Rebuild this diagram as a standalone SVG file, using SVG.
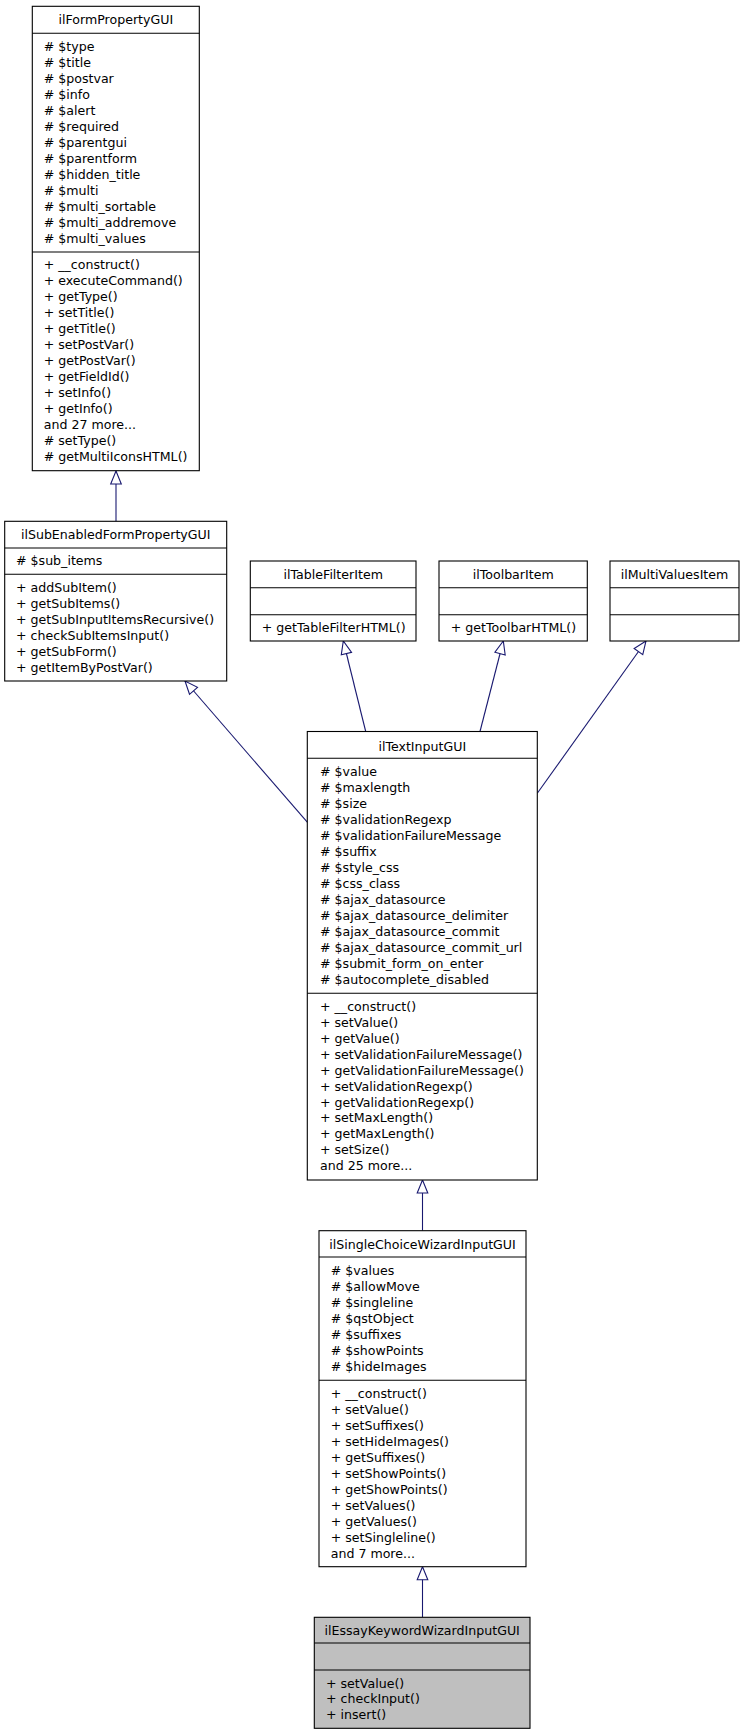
<svg xmlns="http://www.w3.org/2000/svg" width="744" height="1736" viewBox="0 0 744 1736">
<style>
.box{fill:#fff;stroke:#000;stroke-width:1.1}
.cur{fill:#bfbfbf;stroke:#000;stroke-width:1.1}
.sep{stroke:#000;stroke-width:1.1}
text{font-family:"DejaVu Sans","Liberation Sans",sans-serif;font-size:12.6px;fill:#000}
.t{text-anchor:middle}
.edge{stroke:#191970;stroke-width:1.1;fill:none;marker-end:url(#arr)}
</style>
<defs>
<marker id="arr" markerUnits="userSpaceOnUse" viewBox="-1 -1 16 14" markerWidth="16" markerHeight="14" refX="13" refY="5.5" orient="auto" overflow="visible">
<path d="M13,5.5 L0,0.2 L0,10.8 Z" fill="#fff" stroke="#191970" stroke-width="1.1"/>
</marker>
</defs>
<g id="connectors">
<line class="edge" x1="116" y1="521.3" x2="116" y2="471"/>
<line class="edge" x1="307.7" y1="822.7" x2="185" y2="681"/>
<line class="edge" x1="365.7" y1="731.5" x2="343.3" y2="641"/>
<line class="edge" x1="480" y1="731.5" x2="503.3" y2="641"/>
<line class="edge" x1="537.3" y1="793.3" x2="646" y2="641"/>
<line class="edge" x1="422.5" y1="1230.7" x2="422.5" y2="1180"/>
<line class="edge" x1="422.5" y1="1617.3" x2="422.5" y2="1566.7"/>
</g>
<g id="ilFormPropertyGUI">
<rect class="box" x="32.3" y="6.3" width="167" height="464.4"/>
<line class="sep" x1="32.3" y1="33.3" x2="199.3" y2="33.3"/>
<line class="sep" x1="32.3" y1="252" x2="199.3" y2="252"/>
<text class="t" x="115.8" y="24.2">ilFormPropertyGUI</text>
<text x="43.7" y="51.2">
<tspan x="43.7">#  $type</tspan><tspan x="43.7" dy="16">#  $title</tspan><tspan x="43.7" dy="16">#  $postvar</tspan><tspan x="43.7" dy="16">#  $info</tspan><tspan x="43.7" dy="16">#  $alert</tspan><tspan x="43.7" dy="16">#  $required</tspan><tspan x="43.7" dy="16">#  $parentgui</tspan><tspan x="43.7" dy="16">#  $parentform</tspan><tspan x="43.7" dy="16">#  $hidden_title</tspan><tspan x="43.7" dy="16">#  $multi</tspan><tspan x="43.7" dy="16">#  $multi_sortable</tspan><tspan x="43.7" dy="16">#  $multi_addremove</tspan><tspan x="43.7" dy="16">#  $multi_values</tspan>
</text>
<text x="43.7" y="268.8">
<tspan x="43.7">+  __construct()</tspan><tspan x="43.7" dy="16">+  executeCommand()</tspan><tspan x="43.7" dy="16">+  getType()</tspan><tspan x="43.7" dy="16">+  setTitle()</tspan><tspan x="43.7" dy="16">+  getTitle()</tspan><tspan x="43.7" dy="16">+  setPostVar()</tspan><tspan x="43.7" dy="16">+  getPostVar()</tspan><tspan x="43.7" dy="16">+  getFieldId()</tspan><tspan x="43.7" dy="16">+  setInfo()</tspan><tspan x="43.7" dy="16">+  getInfo()</tspan><tspan x="43.7" dy="16">and 27 more...</tspan><tspan x="43.7" dy="16">#  setType()</tspan><tspan x="43.7" dy="16">#  getMultiIconsHTML()</tspan>
</text>
</g>
<g id="ilSubEnabledFormPropertyGUI">
<rect class="box" x="4.7" y="521.3" width="222" height="159.7"/>
<line class="sep" x1="4.7" y1="548" x2="226.7" y2="548"/>
<line class="sep" x1="4.7" y1="574.3" x2="226.7" y2="574.3"/>
<text class="t" x="115.7" y="538.8">ilSubEnabledFormPropertyGUI</text>
<text x="16" y="564.8">#  $sub_items</text>
<text x="16" y="591.8">
<tspan x="16">+  addSubItem()</tspan><tspan x="16" dy="16">+  getSubItems()</tspan><tspan x="16" dy="16">+  getSubInputItemsRecursive()</tspan><tspan x="16" dy="16">+  checkSubItemsInput()</tspan><tspan x="16" dy="16">+  getSubForm()</tspan><tspan x="16" dy="16">+  getItemByPostVar()</tspan>
</text>
</g>
<g id="ilTableFilterItem">
<rect class="box" x="250.3" y="561" width="165.7" height="80"/>
<line class="sep" x1="250.3" y1="587.7" x2="416" y2="587.7"/>
<line class="sep" x1="250.3" y1="614.7" x2="416" y2="614.7"/>
<text class="t" x="333.2" y="578.8">ilTableFilterItem</text>
<text x="261.7" y="632.2">+  getTableFilterHTML()</text>
</g>
<g id="ilToolbarItem">
<rect class="box" x="439" y="561" width="148.3" height="80"/>
<line class="sep" x1="439" y1="587.7" x2="587.3" y2="587.7"/>
<line class="sep" x1="439" y1="614.7" x2="587.3" y2="614.7"/>
<text class="t" x="513.2" y="578.8">ilToolbarItem</text>
<text x="450.7" y="632.2">+  getToolbarHTML()</text>
</g>
<g id="ilMultiValuesItem">
<rect class="box" x="610" y="561" width="129" height="80"/>
<line class="sep" x1="610" y1="587.7" x2="739" y2="587.7"/>
<line class="sep" x1="610" y1="614.7" x2="739" y2="614.7"/>
<text class="t" x="674.5" y="578.8">ilMultiValuesItem</text>
</g>
<g id="ilTextInputGUI">
<rect class="box" x="307.3" y="731.5" width="230" height="448.5"/>
<line class="sep" x1="307.3" y1="758.3" x2="537.3" y2="758.3"/>
<line class="sep" x1="307.3" y1="993.3" x2="537.3" y2="993.3"/>
<text class="t" x="422.3" y="750.5">ilTextInputGUI</text>
<text x="320" y="776.2">
<tspan x="320">#  $value</tspan><tspan x="320" dy="15.95">#  $maxlength</tspan><tspan x="320" dy="15.95">#  $size</tspan><tspan x="320" dy="15.95">#  $validationRegexp</tspan><tspan x="320" dy="15.95">#  $validationFailureMessage</tspan><tspan x="320" dy="15.95">#  $suffix</tspan><tspan x="320" dy="15.95">#  $style_css</tspan><tspan x="320" dy="15.95">#  $css_class</tspan><tspan x="320" dy="15.95">#  $ajax_datasource</tspan><tspan x="320" dy="15.95">#  $ajax_datasource_delimiter</tspan><tspan x="320" dy="15.95">#  $ajax_datasource_commit</tspan><tspan x="320" dy="15.95">#  $ajax_datasource_commit_url</tspan><tspan x="320" dy="15.95">#  $submit_form_on_enter</tspan><tspan x="320" dy="15.95">#  $autocomplete_disabled</tspan>
</text>
<text x="320" y="1010.8">
<tspan x="320">+  __construct()</tspan><tspan x="320" dy="15.95">+  setValue()</tspan><tspan x="320" dy="15.95">+  getValue()</tspan><tspan x="320" dy="15.95">+  setValidationFailureMessage()</tspan><tspan x="320" dy="15.95">+  getValidationFailureMessage()</tspan><tspan x="320" dy="15.95">+  setValidationRegexp()</tspan><tspan x="320" dy="15.95">+  getValidationRegexp()</tspan><tspan x="320" dy="15.95">+  setMaxLength()</tspan><tspan x="320" dy="15.95">+  getMaxLength()</tspan><tspan x="320" dy="15.95">+  setSize()</tspan><tspan x="320" dy="15.95">and 25 more...</tspan>
</text>
</g>
<g id="ilSingleChoiceWizardInputGUI">
<rect class="box" x="319" y="1230.7" width="207" height="336"/>
<line class="sep" x1="319" y1="1257" x2="526" y2="1257"/>
<line class="sep" x1="319" y1="1380.3" x2="526" y2="1380.3"/>
<text class="t" x="422.5" y="1248.8">ilSingleChoiceWizardInputGUI</text>
<text x="330.7" y="1275.2">
<tspan x="330.7">#  $values</tspan><tspan x="330.7" dy="16">#  $allowMove</tspan><tspan x="330.7" dy="16">#  $singleline</tspan><tspan x="330.7" dy="16">#  $qstObject</tspan><tspan x="330.7" dy="16">#  $suffixes</tspan><tspan x="330.7" dy="16">#  $showPoints</tspan><tspan x="330.7" dy="16">#  $hideImages</tspan>
</text>
<text x="330.7" y="1397.5">
<tspan x="330.7">+  __construct()</tspan><tspan x="330.7" dy="16">+  setValue()</tspan><tspan x="330.7" dy="16">+  setSuffixes()</tspan><tspan x="330.7" dy="16">+  setHideImages()</tspan><tspan x="330.7" dy="16">+  getSuffixes()</tspan><tspan x="330.7" dy="16">+  setShowPoints()</tspan><tspan x="330.7" dy="16">+  getShowPoints()</tspan><tspan x="330.7" dy="16">+  setValues()</tspan><tspan x="330.7" dy="16">+  getValues()</tspan><tspan x="330.7" dy="16">+  setSingleline()</tspan><tspan x="330.7" dy="16">and 7 more...</tspan>
</text>
</g>
<g id="ilEssayKeywordWizardInputGUI">
<rect class="cur" x="314.3" y="1617.3" width="215.7" height="111"/>
<line class="sep" x1="314.3" y1="1643" x2="530" y2="1643"/>
<line class="sep" x1="314.3" y1="1670" x2="530" y2="1670"/>
<text class="t" x="422.2" y="1635.2">ilEssayKeywordWizardInputGUI</text>
<text x="326" y="1687.8">
<tspan x="326">+  setValue()</tspan><tspan x="326" dy="15.6">+  checkInput()</tspan><tspan x="326" dy="15.6">+  insert()</tspan>
</text>
</g>
</svg>
